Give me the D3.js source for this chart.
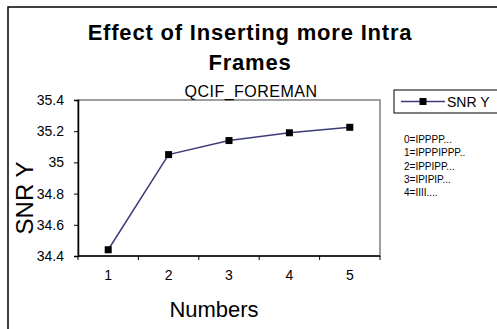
<!DOCTYPE html>
<html>
<head>
<meta charset="utf-8">
<script src="https://cdn.jsdelivr.net/npm/d3@7"></script>
<style>
  body { margin: 0; background: #fff; }
  text { font-family: Arial, "Liberation Sans", sans-serif; }
</style>
</head>
<body>
<div id="chart"></div>
<script>
const categories = ["1", "2", "3", "4", "5"];
const snrY = [34.44, 35.05, 35.14, 35.19, 35.225];
const yTicks = [34.4, 34.6, 34.8, 35, 35.2, 35.4];
const notes = ["0=IPPPP...", "1=IPPPIPPP..", "2=IPPIPP...", "3=IPIPIP...", "4=IIII...."];

const width = 497, height = 329;
const plot = { left: 78, right: 380, top: 100, bottom: 256 };
const lineColor = "#3c3c78";

const svg = d3.select("#chart")
    .append("svg")
        .attr("width", width)
        .attr("height", height);

// outer chart border (runs off the right and bottom edges)
svg.append("rect")
    .attr("x", 8)
    .attr("y", 7)
    .attr("width", 520)
    .attr("height", 360)
    .attr("fill", "none")
    .attr("stroke", "black")
    .attr("stroke-width", 1.5);

const x = d3.scaleBand()
    .domain(categories)
    .range([plot.left, plot.right]);

const y = d3.scaleLinear()
    .domain([34.4, 35.4])
    .range([plot.bottom, plot.top]);

// plot area frame
svg.append("rect")
    .attr("x", plot.left)
    .attr("y", plot.top)
    .attr("width", plot.right - plot.left)
    .attr("height", plot.bottom - plot.top)
    .attr("fill", "white")
    .attr("stroke", "#808080")
    .attr("stroke-width", 1.5);

// y axis
const yAxis = svg.append("g")
    .attr("transform", `translate(${plot.left},0)`)
    .call(d3.axisLeft(y).tickValues(yTicks).tickSize(4).tickPadding(10).tickFormat(d3.format("")));
yAxis.select(".domain").attr("stroke", "black").attr("stroke-width", 1.5);
yAxis.selectAll("text").style("font-size", "14px").attr("fill", "black");

// x axis: ticks sit between categories
const boundaries = categories.map(c => x(c)).concat([plot.right]);
const xAxis = svg.append("g")
    .attr("transform", `translate(0,${plot.bottom})`);
xAxis.append("line")
    .attr("x1", plot.left).attr("x2", plot.right)
    .attr("stroke", "black").attr("stroke-width", 1.5);
xAxis.selectAll(".tick")
    .data(boundaries)
    .enter()
    .append("line")
        .attr("x1", d => d).attr("x2", d => d)
        .attr("y1", 0).attr("y2", 4)
        .attr("stroke", "black");
xAxis.selectAll(".lbl")
    .data(categories)
    .enter()
    .append("text")
        .attr("x", d => x(d) + x.bandwidth() / 2)
        .attr("y", 24)
        .attr("text-anchor", "middle")
        .style("font-size", "14px")
        .text(d => d);

// series
const line = d3.line()
    .x((d, i) => x(categories[i]) + x.bandwidth() / 2)
    .y(d => y(d));

svg.append("path")
    .datum(snrY)
    .attr("d", line)
    .attr("fill", "none")
    .attr("stroke", lineColor)
    .attr("stroke-width", 1.5);

svg.selectAll(".pt")
    .data(snrY)
    .enter()
    .append("rect")
        .attr("x", (d, i) => x(categories[i]) + x.bandwidth() / 2 - 3.5)
        .attr("y", d => y(d) - 3.5)
        .attr("width", 7)
        .attr("height", 7)
        .attr("fill", "black");

// titles
svg.append("text")
    .attr("x", 250).attr("y", 40)
    .attr("text-anchor", "middle")
    .style("font-size", "22px").style("font-weight", "bold").style("letter-spacing", "0.8px")
    .text("Effect of Inserting more Intra");
svg.append("text")
    .attr("x", 250).attr("y", 70)
    .attr("text-anchor", "middle")
    .style("font-size", "22px").style("font-weight", "bold").style("letter-spacing", "0.8px")
    .text("Frames");
svg.append("text")
    .attr("x", 251).attr("y", 97)
    .attr("text-anchor", "middle")
    .style("font-size", "16px").style("letter-spacing", "0.5px")
    .text("QCIF_FOREMAN");

svg.append("text")
    .attr("transform", "translate(33,198) rotate(-90)")
    .attr("text-anchor", "middle")
    .style("font-size", "24px")
    .text("SNR Y");

svg.append("text")
    .attr("x", 214).attr("y", 317)
    .attr("text-anchor", "middle")
    .style("font-size", "22px")
    .text("Numbers");

// legend
const legend = svg.append("g");
legend.append("rect")
    .attr("x", 394).attr("y", 90)
    .attr("width", 120).attr("height", 23)
    .attr("fill", "white").attr("stroke", "black").attr("stroke-width", 1);
legend.append("line")
    .attr("x1", 401).attr("x2", 445)
    .attr("y1", 101.5).attr("y2", 101.5)
    .attr("stroke", lineColor).attr("stroke-width", 1.5);
legend.append("rect")
    .attr("x", 419.5).attr("y", 98).attr("width", 7).attr("height", 7)
    .attr("fill", "black");
legend.append("text")
    .attr("x", 447).attr("y", 107)
    .style("font-size", "14px")
    .text("SNR Y");

svg.selectAll(".note")
    .data(notes)
    .enter()
    .append("text")
        .attr("x", 404)
        .attr("y", (d, i) => 143 + i * 13.3)
        .style("font-size", "10px")
        .text(d => d);
</script>
</body>
</html>
